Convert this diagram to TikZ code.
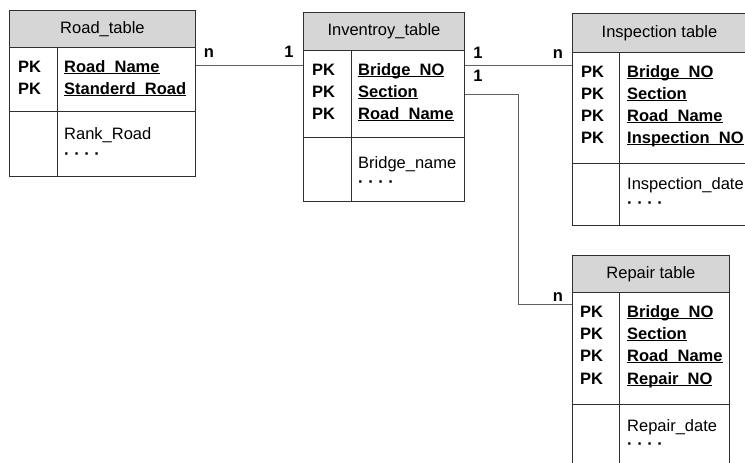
\documentclass[tikz,border=0pt]{standalone}
\usepackage{fontspec}
\setmainfont{Liberation Sans}
\definecolor{hdrgray}{HTML}{D6D6D6}
\definecolor{framecol}{HTML}{303030}
\definecolor{linecol}{HTML}{606060}
\newcommand{\keyname}[1]{\underline{\smash{#1}}}
\newcommand{\etcdots}{·\hspace{4.6pt}·\hspace{4.6pt}·\hspace{4.6pt}·}
\tikzset{
  hdr/.style={draw=framecol, line width=0.9pt, fill=hdrgray, anchor=north west, inner sep=0pt, font=\fontsize{16.5}{18}\selectfont},
  cell/.style={draw=framecol, line width=0.9pt, fill=white, anchor=north west, inner sep=0pt},
  pk/.style={anchor=base west, inner sep=0pt, font=\bfseries\fontsize{16.5}{18}\selectfont},
  attr/.style={anchor=base west, inner sep=0pt, font=\fontsize{16.5}{18}\selectfont},
  etc/.style={anchor=base west, inner sep=0pt, font=\bfseries\fontsize{16.5}{18}\selectfont},
  card/.style={anchor=base, inner sep=0pt, font=\bfseries\fontsize{16.5}{18}\selectfont},
  conn/.style={draw=linecol, line width=0.8pt}
}
\begin{document}
\begin{tikzpicture}[x=1pt, y=-1pt]
\useasboundingbox (0,0) rectangle (745,463);
\clip (0,0) rectangle (745,463);
\fill[white] (0,0) rectangle (745,463);

% ---- Road_table ----
\node[hdr, minimum width=186pt, minimum height=37pt] (road-h) at (9,10) {Road\_table};
\node[cell, minimum width=48pt, minimum height=64pt] (road-kl) at (9,47) {};
\node[cell, minimum width=138pt, minimum height=64pt] (road-kr) at (57,47) {};
\node[cell, minimum width=48pt, minimum height=65pt] (road-al) at (9,111) {};
\node[cell, minimum width=138pt, minimum height=65pt] (road-ar) at (57,111) {};
\foreach \y/\n [count=\i] in {72/Road\_Name, 94/Standerd\_Road} {
  \node[pk] (road-pk\i) at (18,\y) {PK};
  \node[pk] (road-key\i) at (64,\y) {\keyname{\n}};
}
\node[attr] (road-a1) at (64,139) {Rank\_Road};
\node[etc] (road-a2) at (64,159) {\etcdots};

% ---- Inventroy_table ----
\node[hdr, minimum width=161pt, minimum height=38pt] (inv-h) at (303,12) {Inventroy\_table};
\node[cell, minimum width=48pt, minimum height=87pt] (inv-kl) at (303,50) {};
\node[cell, minimum width=113pt, minimum height=87pt] (inv-kr) at (351,50) {};
\node[cell, minimum width=48pt, minimum height=64pt] (inv-al) at (303,137) {};
\node[cell, minimum width=113pt, minimum height=64pt] (inv-ar) at (351,137) {};
\foreach \y/\n [count=\i] in {75/Bridge\_NO, 97/Section, 119/Road\_Name} {
  \node[pk] (inv-pk\i) at (312,\y) {PK};
  \node[pk] (inv-key\i) at (358,\y) {\keyname{\n}};
}
\node[attr] (inv-a1) at (358,168) {Bridge\_name};
\node[etc] (inv-a2) at (358,187) {\etcdots};

% ---- Inspection table ----
\node[hdr, minimum width=200pt, minimum height=39pt] (ins-h) at (572,13) {\hspace*{-26pt}Inspection table};
\node[cell, minimum width=47pt, minimum height=111pt] (ins-kl) at (572,52) {};
\node[cell, minimum width=153pt, minimum height=111pt] (ins-kr) at (619,52) {};
\node[cell, minimum width=47pt, minimum height=62pt] (ins-al) at (572,163) {};
\node[cell, minimum width=153pt, minimum height=62pt] (ins-ar) at (619,163) {};
\foreach \y/\n [count=\i] in {77/Bridge\_NO, 99/Section, 121/Road\_Name, 143/Inspection\_NO} {
  \node[pk] (ins-pk\i) at (581,\y) {PK};
  \node[pk] (ins-key\i) at (627,\y) {\keyname{\n}};
}
\node[attr] (ins-a1) at (627,189) {Inspection\_date};
\node[etc] (ins-a2) at (627,208) {\etcdots};

% ---- Repair table ----
\node[hdr, minimum width=157pt, minimum height=37pt] (rep-h) at (572,255) {Repair table};
\node[cell, minimum width=47pt, minimum height=112pt] (rep-kl) at (572,292) {};
\node[cell, minimum width=110pt, minimum height=112pt] (rep-kr) at (619,292) {};
\node[cell, minimum width=47pt, minimum height=80pt] (rep-al) at (572,404) {};
\node[cell, minimum width=110pt, minimum height=80pt] (rep-ar) at (619,404) {};
\foreach \y/\n [count=\i] in {317/Bridge\_NO, 339/Section, 361/Road\_Name, 384/Repair\_NO} {
  \node[pk] (rep-pk\i) at (580,\y) {PK};
  \node[pk] (rep-key\i) at (627,\y) {\keyname{\n}};
}
\node[attr] (rep-a1) at (627,431) {Repair\_date};
\node[etc] (rep-a2) at (627,449) {\etcdots};

% ---- relationships ----
\draw[conn] ([yshift=-18pt]road-kr.north east) -- ([yshift=-18pt]road-kr.north east -| inv-kl.west);
\node[card] (c-road-n) at (209,57) {n};
\node[card] (c-road-1) at (289,57) {1};

\draw[conn] ([yshift=-15pt]inv-kr.north east) -- ([yshift=-15pt]inv-kr.north east -| ins-kl.west);
\node[card] (c-ins-1) at (478,58) {1};
\node[card] (c-ins-n) at (558,58) {n};

\coordinate (bend) at (518,94);
\draw[conn] ([yshift=-44pt]inv-kr.north east) -- (bend) |- ([yshift=-12pt]rep-kl.north west);
\node[card] (c-rep-1) at (478,81) {1};
\node[card] (c-rep-n) at (558,301) {n};
\end{tikzpicture}
\end{document}
